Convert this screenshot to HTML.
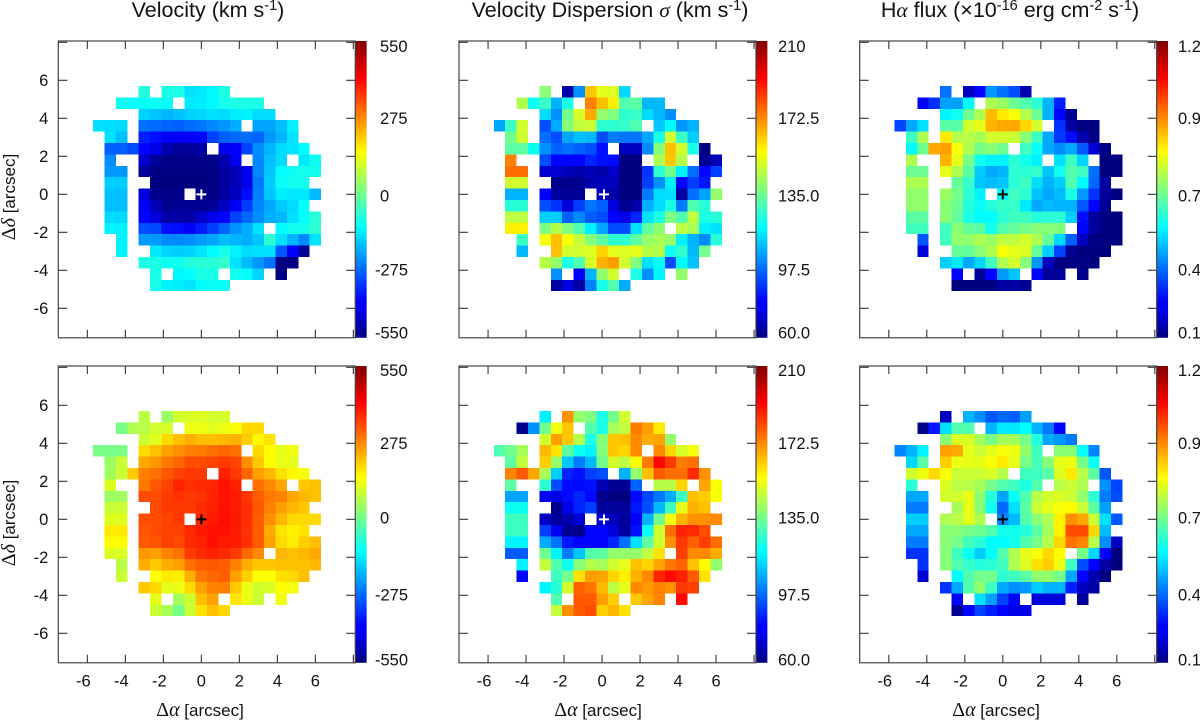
<!DOCTYPE html>
<html>
<head>
<meta charset="utf-8">
<title>Velocity, dispersion and H-alpha flux maps</title>
<style>
html,body{margin:0;padding:0;background:#fff}
svg{display:block}
text{font-family:"Liberation Sans",sans-serif;fill:#111}
.title{font-size:21.5px;text-anchor:middle}
.tick{font-size:16.5px}
.axis{font-size:17px}
.gr{font-family:"Liberation Serif",serif}
.gi{font-family:"Liberation Serif",serif;font-style:italic}
.axis .gr,.axis .gi{font-size:20px}
</style>
</head>
<body>
<svg id="chart" xmlns="http://www.w3.org/2000/svg" width="1200" height="721" viewBox="0 0 1200 721">
<defs>
<linearGradient id="jetGradient" x1="0" y1="1" x2="0" y2="0">
<stop offset="0" stop-color="#00007f"/><stop offset="0.11" stop-color="#0000ff"/><stop offset="0.125" stop-color="#0000ff"/>
<stop offset="0.375" stop-color="#00ffff"/><stop offset="0.625" stop-color="#ffff00"/><stop offset="0.875" stop-color="#ff0000"/><stop offset="1" stop-color="#7f0000"/>
</linearGradient>
</defs>
<rect width="1200" height="721" fill="#fff"/>
<text class="title" x="208" y="17">Velocity (km s<tspan dy="-7" font-size="14.5">-1</tspan><tspan dy="7">)</tspan></text>
<text class="title" x="610" y="17">Velocity Dispersion <tspan class="gi">σ</tspan> (km s<tspan dy="-7" font-size="14.5">-1</tspan><tspan dy="7">)</tspan></text>
<text class="title" x="1010" y="17">H<tspan class="gi">α</tspan> flux (×10<tspan dy="-7" font-size="14.5">-16</tspan><tspan dy="7"> erg cm</tspan><tspan dy="-7" font-size="14.5">-2</tspan><tspan dy="7"> s</tspan><tspan dy="-7" font-size="14.5">-1</tspan><tspan dy="7">)</tspan></text>
<text class="axis" transform="translate(15,197) rotate(-90)" text-anchor="middle"><tspan class="gr">Δ</tspan><tspan class="gi">δ</tspan> [arcsec]</text>
<text class="axis" transform="translate(15,523) rotate(-90)" text-anchor="middle"><tspan class="gr">Δ</tspan><tspan class="gi">δ</tspan> [arcsec]</text>
<text class="axis" x="200" y="716" text-anchor="middle"><tspan class="gr">Δ</tspan><tspan class="gi">α</tspan> [arcsec]</text>
<text class="axis" x="598" y="716" text-anchor="middle"><tspan class="gr">Δ</tspan><tspan class="gi">α</tspan> [arcsec]</text>
<text class="axis" x="996" y="716" text-anchor="middle"><tspan class="gr">Δ</tspan><tspan class="gi">α</tspan> [arcsec]</text>
</svg>
<script>
const _ = null;
const raCells = [-5.4,-4.8,-4.2,-3.6,-3,-2.4,-1.8,-1.2,-0.6,0,0.6,1.2,1.8,2.4,3,3.6,4.2,4.8,5.4,6];
const decCells = [5.4,4.8,4.2,3.6,3,2.4,1.8,1.2,0.6,0,-0.6,-1.2,-1.8,-2.4,-3,-3.6,-4.2,-4.8];
const xTicks = [-6,-4,-2,0,2,4,6,8];
const yTicks = [-6,-4,-2,0,2,4,6,8];
const xTickLabels = [-6,-4,-2,0,2,4,6];
const yTickLabels = [-6,-4,-2,0,2,4,6];
const velocityRange = [-550,550];
const sigmaRange = [60,210];
const fluxRange = [0.1,1.2];
const velocityTicks = ["550","275","0","-275","-550"];
const sigmaTicks = ["210","172.5","135.0","97.5","60.0"];
const fluxTicks = ["1.2","0.9","0.7","0.4","0.1"];

const velocityTop = [
[_,_,_,_,-100,_,-110,-110,-170,-160,-145,-105,_,_,_,_,_,_,_,_],
[_,_,-125,-135,-130,-125,-130,_,-160,-155,-145,-115,-110,-110,-110,_,_,_,_,_],
[_,_,_,_,-185,-200,-215,-205,-185,-180,-170,-175,-155,-150,-175,-175,_,_,_,_],
[-170,-175,-175,_,-290,-295,-305,-310,-295,-285,-265,-250,-225,_,-235,-235,-205,-150,_,_],
[_,-170,-205,_,-380,-400,-420,-420,-415,-410,-345,-310,-300,-295,-305,-250,-215,-165,_,_],
[_,-310,-310,-330,-410,-440,-500,-520,-520,-510,_,-430,-420,-340,-260,-220,-175,-165,-140,_],
[_,-260,_,_,-470,-520,-540,-540,-540,-540,-540,-500,-430,_,-265,-205,-175,_,-160,-125],
[_,-250,-250,_,-520,-545,-545,-545,-545,-545,-545,-515,-490,-430,-265,-200,-135,-125,-115,-120],
[_,-190,-190,_,_,-550,-550,-550,-550,-550,-550,-515,-490,-430,-280,-190,-130,-120,-115,_],
[_,-205,-205,_,-450,-540,-540,-540,_,-540,-540,-515,-480,-400,-275,-200,-155,-160,-160,-210],
[_,-205,-205,_,-420,-490,-530,-530,-530,-530,-530,-480,-420,-350,-270,-230,-195,-175,-130,_],
[_,-175,-175,_,-410,-450,-510,-510,-510,-470,-430,-410,-340,-300,-260,-225,-215,-170,-135,-95],
[_,-150,-150,_,-330,-335,-395,-400,-420,-385,-345,-305,-255,-225,-170,_,-140,-120,-115,-90],
[_,_,-150,_,-245,-245,-265,-265,-260,-245,-235,-210,-220,-225,-200,-90,-170,-215,-265,-165],
[_,_,-150,_,_,-160,-185,-190,-185,-165,-140,-115,-150,-175,-170,-170,-320,-420,-530,_],
[_,_,_,_,-105,-110,-125,-120,-100,-95,-95,-85,-165,-210,-250,-290,-550,-550,_,_],
[_,_,_,_,_,-115,_,-145,-135,-110,-115,_,-120,-135,-185,_,-550,_,_,_],
[_,_,_,_,_,-115,-150,-155,-165,-140,-130,-125,_,_,_,_,_,_,_,_]
];
const sigmaTop = [
[_,_,_,_,137,_,66,100,162,150,149,111,_,_,_,_,_,_,_,_],
[_,_,142,118,125,105,120,_,172,163,156,128,130,106,106,_,_,_,_,_],
[_,_,_,_,111,100,133,148,166,138,135,123,125,111,106,100,_,_,_,_],
[103,125,147,_,90,104,136,145,146,123,123,124,128,_,108,116,101,105,_,_],
[_,133,147,_,95,90,103,107,106,90,97,96,96,103,120,147,125,109,_,_],
[_,130,130,118,100,93,95,93,90,81,_,70,70,99,136,163,147,120,61,_],
[_,172,_,_,90,79,79,79,84,81,80,60,60,_,142,162,143,_,63,68],
[_,175,175,_,72,72,68,67,68,66,71,60,60,86,123,133,114,95,79,88],
[_,147,147,_,_,62,62,62,67,69,69,60,60,88,100,114,79,88,82,_],
[_,105,105,_,78,65,63,63,_,70,66,60,60,97,111,112,65,95,103,138],
[_,122,122,_,90,86,73,88,96,93,74,63,66,104,111,120,97,128,122,_],
[_,144,144,_,109,109,93,99,92,90,79,75,84,112,120,135,128,144,120,122],
[_,156,156,_,135,143,135,128,114,103,90,90,112,130,137,_,144,141,114,112],
[_,_,125,_,152,163,153,145,136,130,123,123,130,138,141,138,114,105,99,122],
[_,_,106,_,_,163,147,147,149,160,150,149,150,143,143,118,123,106,133,_],
[_,_,_,_,143,138,120,128,148,165,168,147,135,112,117,90,116,107,_,_],
[_,_,_,_,_,100,_,78,105,138,147,_,120,100,115,_,138,_,_,_],
[_,_,_,_,_,65,74,65,98,120,128,104,_,_,_,_,_,_,_,_]
];
const fluxTop = [
[_,_,_,_,.36,_,.17,.24,.4,.36,.32,.15,_,_,_,_,_,_,_,_],
[_,_,.24,.29,.41,.41,.51,_,.7,.68,.63,.6,.56,.43,.27,_,_,_,_,_],
[_,_,_,_,.5,.53,.63,.7,.86,.81,.78,.71,.63,.43,.24,.12,_,_,_,_],
[.31,.42,.48,_,.61,.61,.74,.76,.87,.88,.88,.83,.74,_,.29,.14,.1,.1,_,_],
[_,.58,.7,_,.81,.71,.71,.69,.74,.74,.73,.66,.58,.42,.3,.25,.15,.11,_,_],
[_,.51,.63,.88,.89,.78,.7,.64,.66,.63,_,.58,.52,.42,.39,.42,.33,.19,.11,_],
[_,.7,_,_,.87,.76,.64,.53,.5,.5,.56,.53,.5,_,.48,.58,.47,_,.1,.1],
[_,.63,.63,_,.76,.7,.61,.46,.42,.43,.56,.56,.57,.45,.53,.6,.58,.36,.1,.1],
[_,.7,.7,_,_,.62,.57,.45,.44,.45,.56,.58,.48,.43,.46,.6,.51,.35,.14,_],
[_,.67,.67,_,.68,.64,.56,.5,_,.52,.58,.56,.45,.42,.44,.54,.4,.29,.13,.1],
[_,.67,.67,_,.66,.63,.55,.52,.55,.57,.57,.49,.42,.44,.43,.43,.33,.24,.12,_],
[_,.61,.61,_,.66,.62,.54,.51,.51,.56,.58,.58,.55,.56,.56,.46,.25,.13,.1,.1],
[_,.58,.58,_,.58,.66,.62,.61,.53,.6,.62,.64,.66,.66,.65,_,.24,.13,.1,.1],
[_,_,.33,_,.58,.67,.67,.7,.68,.72,.72,.74,.7,.62,.47,.34,.17,.1,.1,.1],
[_,_,.2,_,_,.62,.62,.66,.7,.78,.76,.75,.62,.46,.31,.12,.1,.1,.1,_],
[_,_,_,_,.46,.49,.42,.47,.58,.7,.74,.66,.4,.17,.1,.1,.1,.1,_,_],
[_,_,_,_,_,.24,_,.13,.24,.4,.45,_,.24,.13,.13,_,.11,_,_,_],
[_,_,_,_,_,.1,.1,.1,.1,.14,.14,.12,_,_,_,_,_,_,_,_]
];
const velocityBottom = [
[_,_,_,_,65,_,30,90,95,100,90,90,_,_,_,_,_,_,_,_],
[_,_,-10,50,60,88,95,_,120,120,105,118,132,178,178,_,_,_,_,_],
[_,_,_,_,80,105,178,205,225,208,208,215,222,190,145,168,_,_,_,_],
[-10,-10,-5,_,175,205,240,258,275,283,292,302,292,_,175,140,112,122,_,_],
[_,30,80,_,232,250,283,300,330,330,340,350,340,258,198,135,115,108,_,_],
[_,35,78,195,275,290,320,340,352,350,_,378,350,303,240,215,170,145,122,_],
[_,100,_,_,285,320,340,375,360,368,370,395,378,_,290,265,232,_,198,205],
[_,30,35,_,330,330,350,360,350,358,375,395,385,352,312,283,272,232,215,205],
[_,80,82,_,_,330,350,352,350,368,378,395,385,360,320,275,240,215,198,_],
[_,105,105,_,330,330,340,352,_,368,385,398,388,360,312,258,215,178,178,175],
[_,160,160,_,320,330,342,342,368,388,395,395,385,358,312,230,168,150,165,_],
[_,140,140,_,315,322,342,332,368,378,395,385,385,360,312,238,178,158,190,208],
[_,100,100,_,250,240,272,290,350,368,378,368,350,300,265,_,215,205,215,230],
[_,_,62,_,225,195,225,240,292,312,320,312,275,225,198,198,205,205,205,215],
[_,_,80,_,_,135,160,155,225,285,300,312,240,190,135,135,170,178,205,_],
[_,_,_,_,195,178,108,115,175,240,272,275,195,115,88,95,135,125,_,_],
[_,_,_,_,_,110,_,40,82,205,238,_,165,115,80,_,122,_,_,_],
[_,_,_,_,_,80,45,-10,80,168,205,178,_,_,_,_,_,_,_,_]
];
const sigmaBottom = [
[_,_,_,_,114,_,170,138,135,120,133,147,_,_,_,_,_,_,_,_],
[_,_,62,100,133,152,162,_,128,120,141,145,173,168,157,_,_,_,_,_],
[_,_,_,_,147,168,162,143,120,136,162,163,171,166,167,138,_,_,_,_],
[128,133,141,_,164,158,130,118,115,136,162,160,171,_,171,160,148,152,_,_],
[_,130,145,_,161,138,108,97,106,133,147,144,153,173,190,183,173,175,_,_],
[_,172,178,167,141,109,84,81,88,90,_,105,138,163,178,175,175,185,170,_],
[_,130,_,_,123,90,80,80,81,68,63,63,93,_,143,143,160,_,167,153],
[_,103,103,_,78,75,80,84,80,62,60,60,80,89,96,104,125,163,161,153],
[_,118,118,_,_,62,75,84,88,64,64,64,82,90,106,126,150,165,163,_],
[_,125,125,_,70,64,67,73,_,72,69,64,78,105,133,152,165,170,170,171],
[_,125,125,_,88,77,63,62,79,79,73,65,81,118,147,175,186,185,180,_],
[_,115,115,_,104,96,82,79,79,79,84,95,112,130,147,170,183,177,182,175],
[_,92,92,_,133,115,97,108,128,130,138,138,138,144,158,_,182,171,171,166],
[_,_,115,_,145,128,118,136,143,141,147,150,163,160,167,174,177,163,154,138],
[_,_,79,_,_,125,133,158,168,167,160,156,165,171,186,190,187,178,158,_],
[_,_,_,_,115,122,147,177,174,164,144,150,171,169,172,170,183,182,_,_],
[_,_,_,_,_,128,_,178,178,168,161,_,162,167,172,_,190,_,_,_],
[_,_,_,_,_,145,170,178,180,161,164,158,_,_,_,_,_,_,_,_]
];
const fluxBottom = [
[_,_,_,_,.17,_,.43,.39,.33,.35,.34,.41,_,_,_,_,_,_,_,_],
[_,_,.11,.26,.48,.6,.6,_,.43,.49,.49,.51,.43,.37,.24,_,_,_,_,_],
[_,_,_,_,.66,.75,.75,.69,.64,.69,.69,.64,.55,.42,.4,.37,_,_,_,_],
[.38,.43,.5,_,.89,.88,.76,.73,.76,.78,.77,.67,.58,_,.66,.66,.52,.38,_,_],
[_,.47,.61,_,.84,.77,.76,.76,.78,.81,.76,.64,.59,.66,.76,.77,.64,.52,_,_],
[_,.74,.77,.83,.78,.73,.73,.73,.75,.71,_,.58,.58,.61,.75,.81,.71,.61,.33,_],
[_,.56,_,_,.75,.71,.71,.69,.64,.6,.58,.54,.6,_,.71,.73,.7,_,.39,.31],
[_,.42,.42,_,.74,.74,.76,.66,.55,.42,.52,.6,.71,.74,.75,.73,.67,.56,.37,.32],
[_,.37,.37,_,_,.69,.76,.66,.53,.35,.48,.61,.73,.76,.78,.79,.73,.61,.41,_],
[_,.46,.46,_,.7,.71,.76,.7,_,.39,.44,.6,.66,.7,.8,.91,.88,.73,.48,.33],
[_,.42,.42,_,.66,.66,.64,.63,.6,.53,.53,.55,.61,.69,.8,.98,.98,.83,.44,_],
[_,.37,.37,_,.66,.64,.58,.56,.51,.51,.53,.6,.64,.71,.83,.94,.92,.71,.39,.17],
[_,.29,.29,_,.66,.58,.52,.46,.51,.6,.7,.76,.78,.83,.79,_,.64,.47,.24,.1],
[_,_,.29,_,.66,.6,.57,.55,.56,.58,.7,.75,.82,.84,.77,.58,.32,.24,.14,.1],
[_,_,.19,_,_,.51,.6,.64,.64,.56,.58,.61,.67,.67,.64,.42,.24,.15,.1,_],
[_,_,_,_,.29,.42,.6,.67,.58,.42,.39,.4,.46,.43,.43,.27,.17,.14,_,_],
[_,_,_,_,_,.24,_,.48,.41,.31,.24,_,.2,.2,.2,_,.13,_,_,_],
[_,_,_,_,_,.12,.24,.31,.27,.24,.21,.21,_,_,_,_,_,_,_,_]
];

const panelValues = [velocityTop,sigmaTop,fluxTop,velocityBottom,sigmaBottom,fluxBottom];
const panelRanges = [velocityRange,sigmaRange,fluxRange,velocityRange,sigmaRange,fluxRange];
const panelCbarLabels = [velocityTicks,sigmaTicks,fluxTicks,velocityTicks,sigmaTicks,fluxTicks];
const panelSlugs = ['velocity-top','dispersion-top','flux-top','velocity-bottom','dispersion-bottom','flux-bottom'];
const markerColors = ['#fff','#fff','#000','#000','#fff','#000'];
const markerX = [0,0.1,0,0,0.1,0];

const svg = document.getElementById('chart');
const NS = 'http://www.w3.org/2000/svg';
const UNIT = 19;
const XMIN = -7.53, XMAX = 8.1, YMIN = -7.55, YMAX = 8.07;
const CBW = 11.4;
const panelLeft = [58.3,459,859.7];
const rowTop = [41,366];
const cbarNudge = [[5,3,6,6,-5],[4,3,3,6,-3]];
const cbarLabelX = [380,778,1178];
const AXIS = '#444';

function node(parent, tag, attrs, txt) {
  const e = document.createElementNS(NS, tag);
  for (const k in attrs) e.setAttribute(k, attrs[k]);
  if (txt !== undefined) e.textContent = txt;
  parent.appendChild(e);
  return e;
}
function jet(t) {
  const c = v => Math.round(255 * Math.max(0, Math.min(1, v)));
  return 'rgb(' + c(1.5 - Math.abs(4*t - 3)) + ',' + c(1.5 - Math.abs(4*t - 2)) + ',' + c(1.5 - Math.abs(4*t - 1)) + ')';
}

panelValues.forEach(function (values, p) {
  const col = p % 3, row = Math.floor(p / 3);
  const left = panelLeft[col], top = rowTop[row];
  const xS = v => left + (v - XMIN) * UNIT;
  const yS = v => top + (YMAX - v) * UNIT;
  const W = (XMAX - XMIN) * UNIT, H = (YMAX - YMIN) * UNIT;
  const range = panelRanges[p];
  const norm = v => (v - range[0]) / (range[1] - range[0]);
  const slug = panelSlugs[p];

  const g = node(svg, 'g', {});
  
  

  const cells = node(g, 'g', {'shape-rendering': 'crispEdges'});
  
  
  values.forEach(function (rowVals, r) {
    rowVals.forEach(function (v, c) {
      if (v === null) return;
      const rect = node(cells, 'rect', {
        x: xS(raCells[c] - 0.3), y: yS(decCells[r] + 0.3),
        width: 0.6 * UNIT, height: 0.6 * UNIT, fill: jet(norm(v))
      });
      
      
    });
  });

  const cb = node(g, 'rect', {x: left + W, y: top, width: CBW, height: H, fill: 'url(#jetGradient)'});
  
  

  const frame = node(g, 'rect', {x: left, y: top, width: W, height: H, fill: 'none', stroke: AXIS, 'stroke-width': 1.2});
  
  

  xTicks.forEach(function (t) {
    const a = node(g, 'line', {x1: xS(t), x2: xS(t), y1: top, y2: top + 8, stroke: AXIS, 'stroke-width': 1.2});
    
    
    const b = node(g, 'line', {x1: xS(t), x2: xS(t), y1: top + H, y2: top + H - 8, stroke: AXIS, 'stroke-width': 1.2});
    
    
  });
  yTicks.forEach(function (t) {
    const a = node(g, 'line', {x1: left, x2: left + 9, y1: yS(t), y2: yS(t), stroke: AXIS, 'stroke-width': 1.2});
    
    
    const b = node(g, 'line', {x1: left + W, x2: left + W - 9, y1: yS(t), y2: yS(t), stroke: AXIS, 'stroke-width': 1.2});
    
    
  });

  if (col === 0) {
    yTickLabels.forEach(function (t) {
      const l = node(g, 'text', {class: 'tick', x: left - 10, y: yS(t) + 5.9, 'text-anchor': 'end'}, String(t));
      
      
    });
  }
  if (row === 1) {
    xTickLabels.forEach(function (t) {
      const l = node(g, 'text', {class: 'tick', x: xS(t) - (t < 0 ? 4 : 0), y: top + H + 23.5, 'text-anchor': 'middle'}, String(t));
      
      
    });
  }

  panelCbarLabels[p].forEach(function (t, i) {
    const yy = top + H * i / 4 + cbarNudge[row][i];
    const neg = t.charAt(0) === '-';
    const l = node(g, 'text', {class: 'tick', x: cbarLabelX[col] - (neg ? 5 : 0), y: yy + 5.9}, t);
    
    
  });

  const mx = xS(markerX[p]), my = yS(0);
  const mark = node(g, 'path', {d: 'M' + (mx - 5) + ' ' + my + 'H' + (mx + 5) + 'M' + mx + ' ' + (my - 5) + 'V' + (my + 5), stroke: markerColors[p], 'stroke-width': 2, fill: 'none'});
  
  
});
</script>
</body>
</html>
